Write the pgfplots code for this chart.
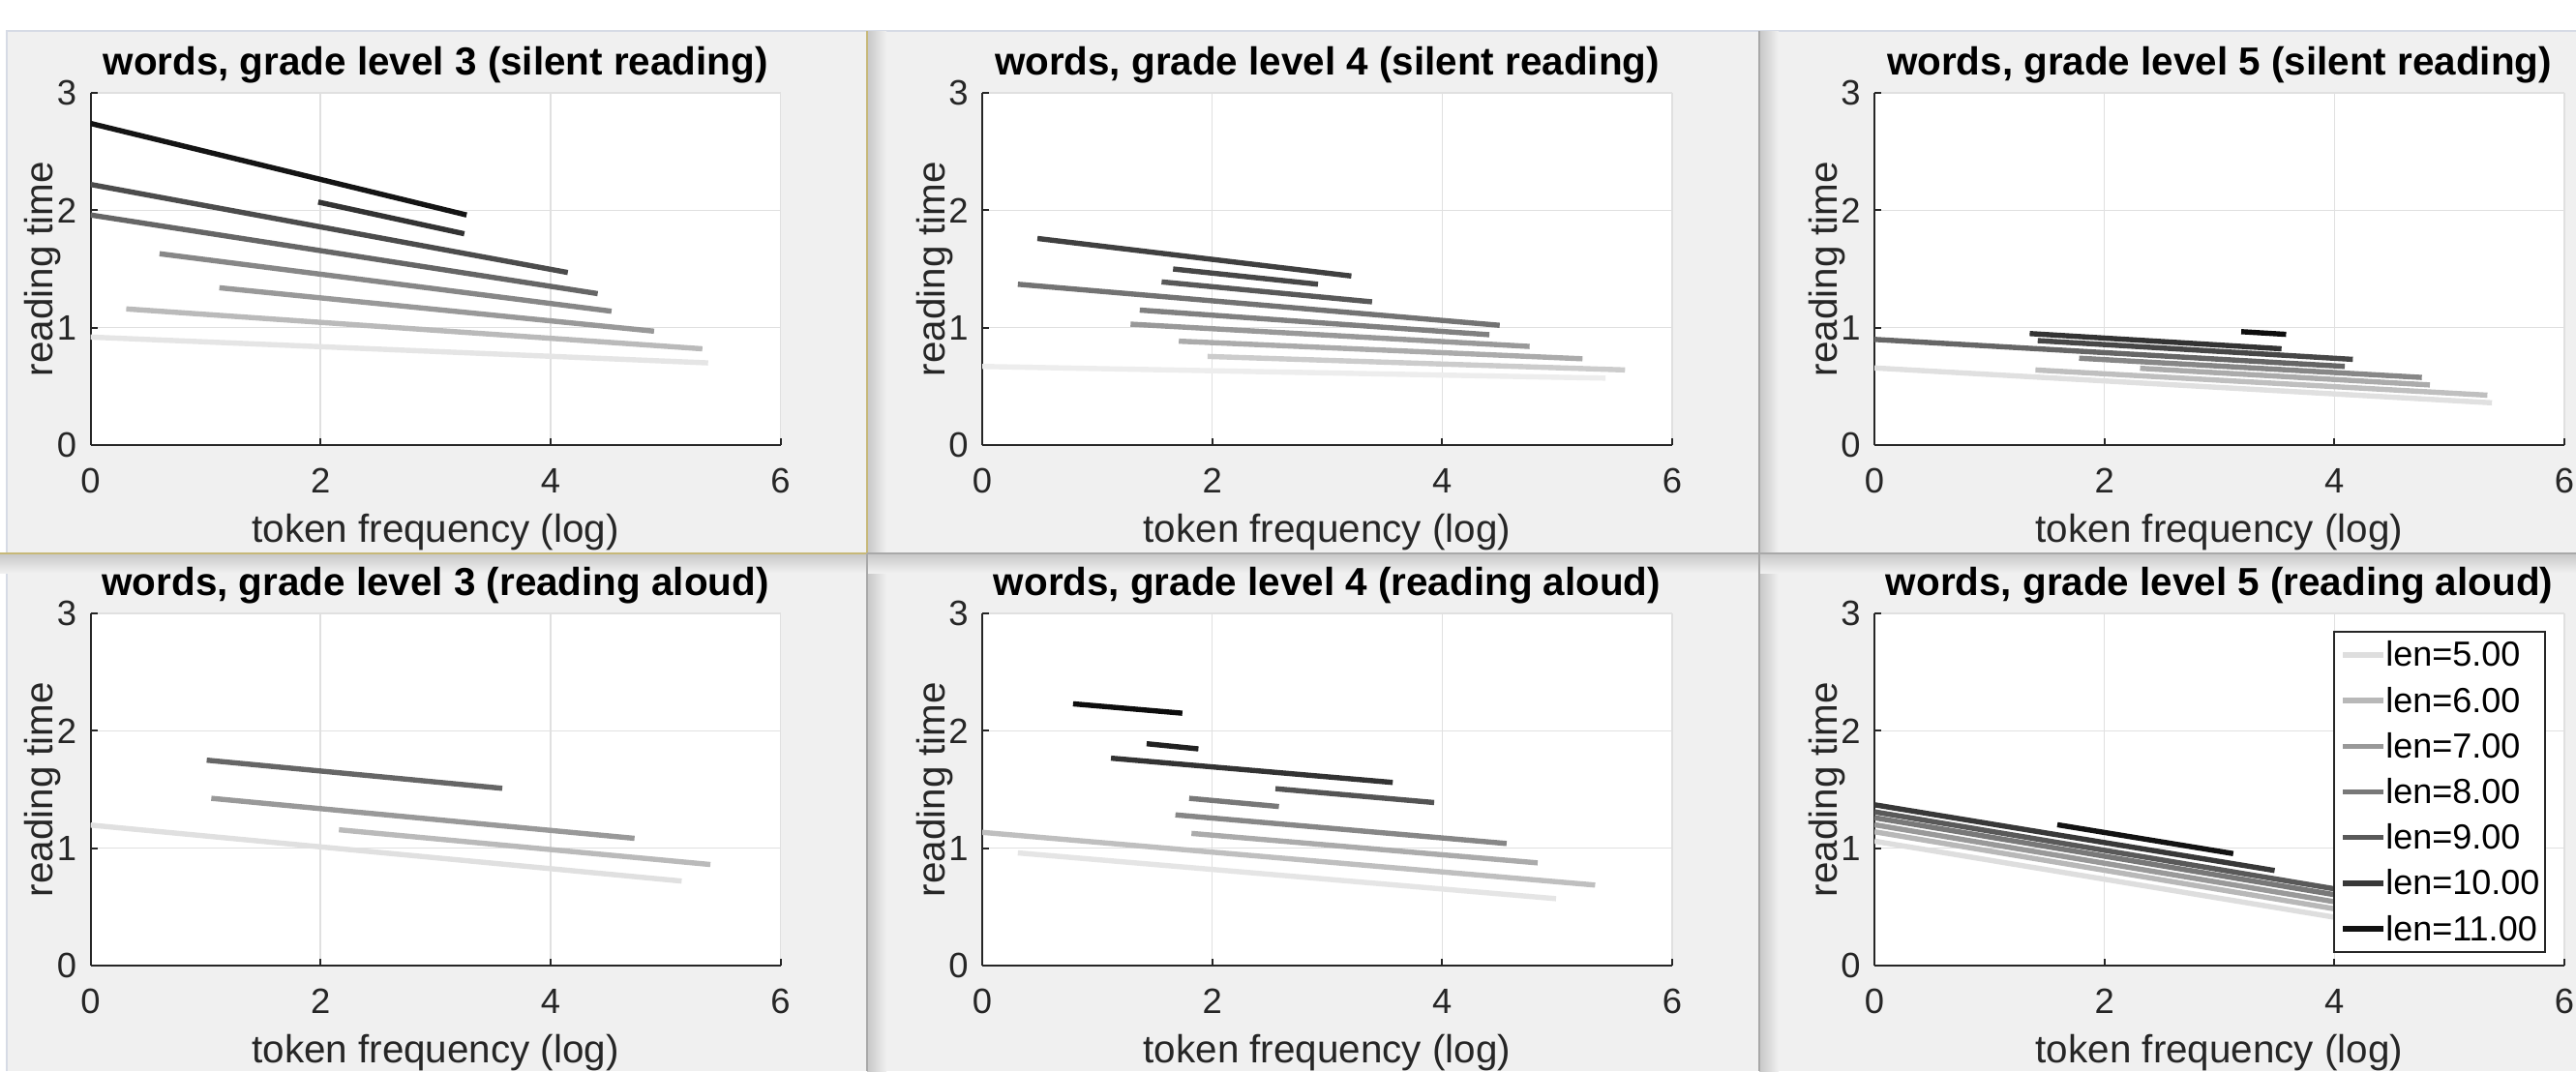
\documentclass[border=0pt]{standalone}
\usepackage{fontspec}
\setmainfont{Liberation Sans}
\usepackage{pgfplots}
\pgfplotsset{compat=1.18}
\definecolor{axiscol}{gray}{0.15}
\definecolor{gridcol}{gray}{0.88}
\definecolor{bgcol}{gray}{0.941}
\definecolor{goldcol}{rgb}{0.78,0.72,0.47}
\definecolor{sepcol}{gray}{0.66}
\definecolor{topborder}{rgb}{0.84,0.86,0.90}
\pgfplotsset{
  every axis title/.style={at={(axis description cs:0.5,1.051)}, anchor=base, font=\fontsize{10.1}{12}\selectfont\bfseries, text=black},
  panel/.style={
    scale only axis, width=178.25pt, height=91pt,
    xmin=0, xmax=6, ymin=0, ymax=3,
    xtick={0,2,4,6}, ytick={0,1,2,3},
    axis x line*=bottom, axis y line*=left,
    axis line style={draw=axiscol, line width=0.5pt, -},
    tick align=inside, major tick length=1.8pt,
    tick style={draw=axiscol, line width=0.5pt},
    grid=major, major grid style={draw=gridcol, line width=0.4pt},
    axis background/.style={fill=white},
    tick label style={font=\fontsize{9.1}{11}\selectfont, text=axiscol},
    /pgf/number format/assume math mode=true,
    xticklabel style={anchor=base, yshift=-12.25pt},
    yticklabel style={anchor=east, inner sep=0pt, xshift=-3.4pt},
    xlabel style={at={(axis description cs:0.5,-0.2747)}, anchor=base, font=\fontsize{10.1}{12}\selectfont, text=axiscol},
    ylabel style={at={(axis description cs:-0.0547,0.5)}, anchor=base, font=\fontsize{10.1}{12}\selectfont, text=axiscol},
    xlabel={token frequency (log)}, ylabel={reading time},
    every axis plot/.append style={line width=1.35pt},
  }
}
\begin{document}
\begin{tikzpicture}
\path[use as bounding box] (0,0) rectangle (665.5pt,276.75pt);
\fill[white] (0,0) rectangle (665.5pt,276.75pt);
\fill[bgcol] (1.75pt,0) rectangle (665.5pt,268.75pt);
\draw[topborder, line width=0.5pt] (1.75pt,0) -- (1.75pt,268.75pt) -- (665.5pt,268.75pt);
\shade[left color=black!22, right color=bgcol] (224pt,0) rectangle (229pt,268.75pt);
\shade[left color=black!22, right color=bgcol] (454.5pt,0) rectangle (459.5pt,268.75pt);
\shade[top color=black!22, bottom color=bgcol] (0,128.75pt) rectangle (665.5pt,133.75pt);
\draw[goldcol, line width=0.5pt] (224pt,133.75pt) -- (224pt,268.75pt);
\draw[goldcol, line width=0.5pt] (0,133.75pt) -- (224pt,133.75pt);
\draw[sepcol, line width=0.5pt] (224pt,0) -- (224pt,133.75pt);
\draw[sepcol, line width=0.5pt] (454.5pt,0) -- (454.5pt,268.75pt);
\draw[sepcol, line width=0.5pt] (224pt,133.75pt) -- (665.5pt,133.75pt);

\begin{axis}[panel, at={(23.4pt,161.75pt)}, anchor=south west,
  title={words, grade level 3 (silent reading)}]
\addplot[color=black!10] coordinates {(0,0.92) (5.37,0.70)};
\addplot[color=black!27] coordinates {(0.31,1.16) (5.32,0.82)};
\addplot[color=black!40] coordinates {(1.12,1.34) (4.90,0.97)};
\addplot[color=black!47] coordinates {(0.60,1.63) (4.53,1.14)};
\addplot[color=black!60] coordinates {(0,1.96) (4.41,1.29)};
\addplot[color=black!70] coordinates {(0,2.22) (4.15,1.47)};
\addplot[color=black!80] coordinates {(1.98,2.07) (3.25,1.80)};
\addplot[color=black!92] coordinates {(0,2.74) (3.27,1.96)};
\end{axis}

\begin{axis}[panel, at={(253.75pt,161.75pt)}, anchor=south west,
  title={words, grade level 4 (silent reading)}]
\addplot[color=black!7] coordinates {(0,0.67) (5.42,0.57)};
\addplot[color=black!20] coordinates {(1.96,0.755) (5.59,0.64)};
\addplot[color=black!33] coordinates {(1.71,0.885) (5.22,0.735)};
\addplot[color=black!40] coordinates {(1.29,1.03) (4.76,0.84)};
\addplot[color=black!50] coordinates {(1.37,1.15) (4.41,0.94)};
\addplot[color=black!55] coordinates {(0.31,1.37) (4.50,1.02)};
\addplot[color=black!65] coordinates {(1.56,1.39) (3.39,1.22)};
\addplot[color=black!72] coordinates {(1.66,1.50) (2.92,1.37)};
\addplot[color=black!75] coordinates {(0.48,1.76) (3.21,1.44)};
\end{axis}

\begin{axis}[panel, at={(484.25pt,161.75pt)}, anchor=south west,
  title={words, grade level 5 (silent reading)}]
\addplot[color=black!12] coordinates {(0,0.657) (5.37,0.36)};
\addplot[color=black!25] coordinates {(1.40,0.64) (5.33,0.425)};
\addplot[color=black!33] coordinates {(2.31,0.654) (4.83,0.512)};
\addplot[color=black!47] coordinates {(1.78,0.74) (4.76,0.576)};
\addplot[color=black!60] coordinates {(0,0.90) (4.09,0.67)};
\addplot[color=black!72] coordinates {(1.42,0.89) (4.16,0.73)};
\addplot[color=black!80] coordinates {(1.35,0.95) (3.54,0.82)};
\addplot[color=black!95] coordinates {(3.19,0.966) (3.58,0.943)};
\end{axis}

\begin{axis}[panel, at={(23.4pt,27.25pt)}, anchor=south west,
  title={words, grade level 3 (reading aloud)}]
\addplot[color=black!12] coordinates {(0,1.197) (5.14,0.72)};
\addplot[color=black!27] coordinates {(2.16,1.157) (5.39,0.861)};
\addplot[color=black!40] coordinates {(1.05,1.425) (4.73,1.084)};
\addplot[color=black!60] coordinates {(1.01,1.75) (3.58,1.51)};
\end{axis}

\begin{axis}[panel, at={(253.75pt,27.25pt)}, anchor=south west,
  title={words, grade level 4 (reading aloud)}]
\addplot[color=black!10] coordinates {(0.31,0.96) (4.99,0.57)};
\addplot[color=black!25] coordinates {(0,1.135) (5.33,0.686)};
\addplot[color=black!33] coordinates {(1.82,1.126) (4.83,0.875)};
\addplot[color=black!47] coordinates {(1.68,1.284) (4.56,1.04)};
\addplot[color=black!53] coordinates {(1.80,1.425) (2.58,1.355)};
\addplot[color=black!67] coordinates {(2.55,1.507) (3.93,1.389)};
\addplot[color=black!80] coordinates {(1.12,1.767) (3.57,1.56)};
\addplot[color=black!87] coordinates {(1.43,1.89) (1.88,1.846)};
\addplot[color=black!95] coordinates {(0.79,2.23) (1.74,2.15)};
\end{axis}

\begin{axis}[panel, at={(484.25pt,27.25pt)}, anchor=south west,
  title={words, grade level 5 (reading aloud)},
  legend cell align=left,
  legend image code/.code={\draw[#1, line width=1.35pt] (0pt,0pt) -- (10.4pt,0pt);},
  legend style={at={(axis description cs:0.974,0.951)}, anchor=north east,
    draw=axiscol, fill=white, line width=0.5pt,
    font=\fontsize{9}{10}\selectfont, text=black,
    inner xsep=1.5pt, inner ysep=2.5pt, row sep=4.8pt,
    nodes={inner sep=0pt, text height=6.5pt, text depth=0.5pt}}]
\addplot[color=black!13] coordinates {(0,1.06) (5.0,0.25)}; \addlegendentry{len=5.00}
\addplot[color=black!28] coordinates {(0,1.14) (5.0,0.32)}; \addlegendentry{len=6.00}
\addplot[color=black!40] coordinates {(0,1.20) (5.0,0.38)}; \addlegendentry{len=7.00}
\addplot[color=black!53] coordinates {(0,1.26) (5.0,0.44)}; \addlegendentry{len=8.00}
\addplot[color=black!65] coordinates {(0,1.31) (5.0,0.49)}; \addlegendentry{len=9.00}
\addplot[color=black!78] coordinates {(0,1.37) (3.48,0.81)}; \addlegendentry{len=10.00}
\addplot[color=black!93] coordinates {(1.59,1.20) (3.12,0.954)}; \addlegendentry{len=11.00}
\end{axis}
\end{tikzpicture}
\end{document}
